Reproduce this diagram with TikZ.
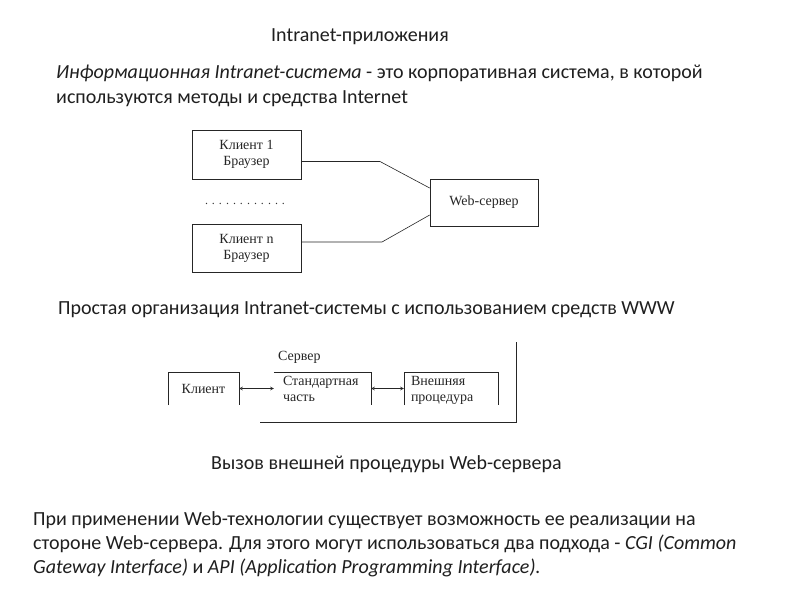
\documentclass[tikz,border=0pt]{standalone}
\usepackage{fontspec}
\setmainfont{Carlito}
\newfontfamily\figfont{Liberation Serif}
\newcommand{\lowline}[1]{\strut\raisebox{-2pt}[0pt][0pt]{#1}}
\begin{document}
\begin{tikzpicture}[x=1pt,y=-1pt,
  body/.style={anchor=base west,inner sep=0pt,font=\fontsize{20}{24}\selectfont,text=black!88},
  figbox/.style={draw=black!85,line width=.7pt,inner sep=0pt,align=center,font=\figfont\fontsize{14}{16}\selectfont,text=black!85},
  openbox/.style={inner sep=0pt,align=left,font=\figfont\fontsize{14}{16}\selectfont,text=black!85},
  wire/.style={draw=black!85,line width=.6pt},
  dbl/.style={draw=black!85,line width=.6pt,<->,>=stealth}]
\useasboundingbox (0,0) rectangle (794,595);
\fill[white] (0,0) rectangle (794,595);
% text
\node[body] (t0) at (271,41) {Intranet-приложения};
\node[body] (t1) at (56,78) {\textit{Информационная Intranet-система} - это корпоративная система, в которой};
\node[body] (t2) at (56,103) {используются методы и средства Internet};
\node[body] (t3) at (58,314) {Простая организация Intranet-системы с использованием средств WWW};
\node[body] (t4) at (211,469) {Вызов внешней процедуры Web-сервера};
\node[body] (t5) at (33,525) {При применении Web-технологии существует возможность ее реализации на};
\node[body] (t6) at (33,549) {стороне Web-сервера. Для этого могут использоваться два подхода - \textit{CGI (Common}};
\node[body] (t7) at (33,573) {\textit{Gateway Interface)} и \textit{API (Application Programming Interface).}};
% figure 1
\node[figbox,minimum width=109pt,minimum height=49pt] (k1) at (246.5,154.5) {Клиент 1\\Браузер};
\node[figbox,minimum width=109pt,minimum height=48pt] (kn) at (246.5,248) {Клиент n\\Браузер};
\node[figbox,minimum width=108pt,minimum height=47pt] (web) at (484,202.5) {Web-сервер};
\node[inner sep=0pt,font=\figfont\fontsize{12}{15}\selectfont,text=black!80] (dots) at (245,204) {. . . . . . . . . . . .};
\coordinate (b1) at (380,161.5);
\coordinate (b2) at (382,242);
\draw[wire] (k1.east |- b1) -- (b1) -- (web.west |- 0,188);
\draw[wire] (kn.east |- b2) -- (b2) -- (web.west |- 0,215);
% figure 2
\node[openbox,minimum width=71pt,minimum height=33pt,align=center] (cl) at (203.5,388.5) {Клиент};
\node[openbox,minimum width=97pt,minimum height=33pt,text width=79pt] (st) at (322.5,388.5) {\lowline{Стандартная}\\\lowline{часть}};
\node[openbox,minimum width=94pt,minimum height=33pt,text width=80pt] (ex) at (451,388.5) {\lowline{Внешняя}\\\lowline{процедура}};
\node[openbox,anchor=west] (srv) at (278,357) {Сервер};
\draw[wire] (cl.south west) -- (cl.north west) -- (cl.north east) -- (cl.south east);
\draw[wire] (st.north west) -- (st.north east) -- (st.south east);
\draw[wire] (ex.south west) -- (ex.north west) -- (ex.north east) -- (ex.south east);
\coordinate (o1) at (516,342);
\coordinate (o2) at (516,422);
\coordinate (o3) at (260,422);
\draw[wire] (o1) -- (o2) -- (o3);
\draw[dbl] (cl.east) -- (st.west);
\draw[dbl] (st.east) -- (ex.west);
\end{tikzpicture}
\end{document}
